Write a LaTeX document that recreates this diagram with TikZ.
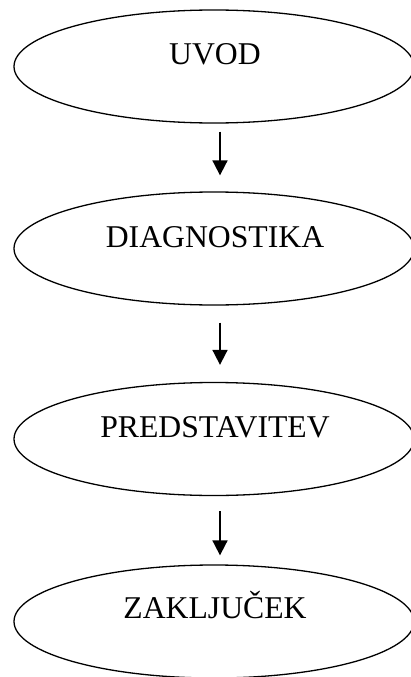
\documentclass[tikz,border=0pt]{standalone}
\usepackage{fontspec}
\setmainfont{Liberation Serif}
\usetikzlibrary{shapes.geometric,arrows.meta}
\begin{document}
\begin{tikzpicture}[x=1pt,y=-1pt,
  oval/.style={draw,ellipse,line width=1.3pt,minimum width=400pt,minimum height=113pt,inner sep=0pt},
  lbl/.style={anchor=base,inner sep=0pt,font=\fontsize{31.7pt}{36pt}\selectfont},
  arr/.style={line width=1.8pt,-{Triangle[length=15pt,width=15pt]}}]
\useasboundingbox (0,0) rectangle (411,677);
\node[oval] (e1) at (214,66.5) {};
\node[oval] (e2) at (214,248.5) {};
\node[oval] (e3) at (214,439) {};
\node[oval] (e4) at (214,621.5) {};
\node[lbl] (t1) at (215,64) {UVOD};
\node[lbl] (t2) at (215,247) {DIAGNOSTIKA};
\node[lbl] (t3) at (215,437) {PREDSTAVITEV};
\node[lbl] (t4) at (215,618) {ZAKLJUČEK};
\draw[arr] ([xshift=6pt,yshift=-8pt]e1.south) -- ([xshift=6pt,yshift=16pt]e2.north);
\draw[arr] ([xshift=6pt,yshift=-17pt]e2.south) -- ([xshift=6pt,yshift=17pt]e3.north);
\draw[arr] ([xshift=6pt,yshift=-15pt]e3.south) -- ([xshift=6pt,yshift=9pt]e4.north);
\end{tikzpicture}
\end{document}
